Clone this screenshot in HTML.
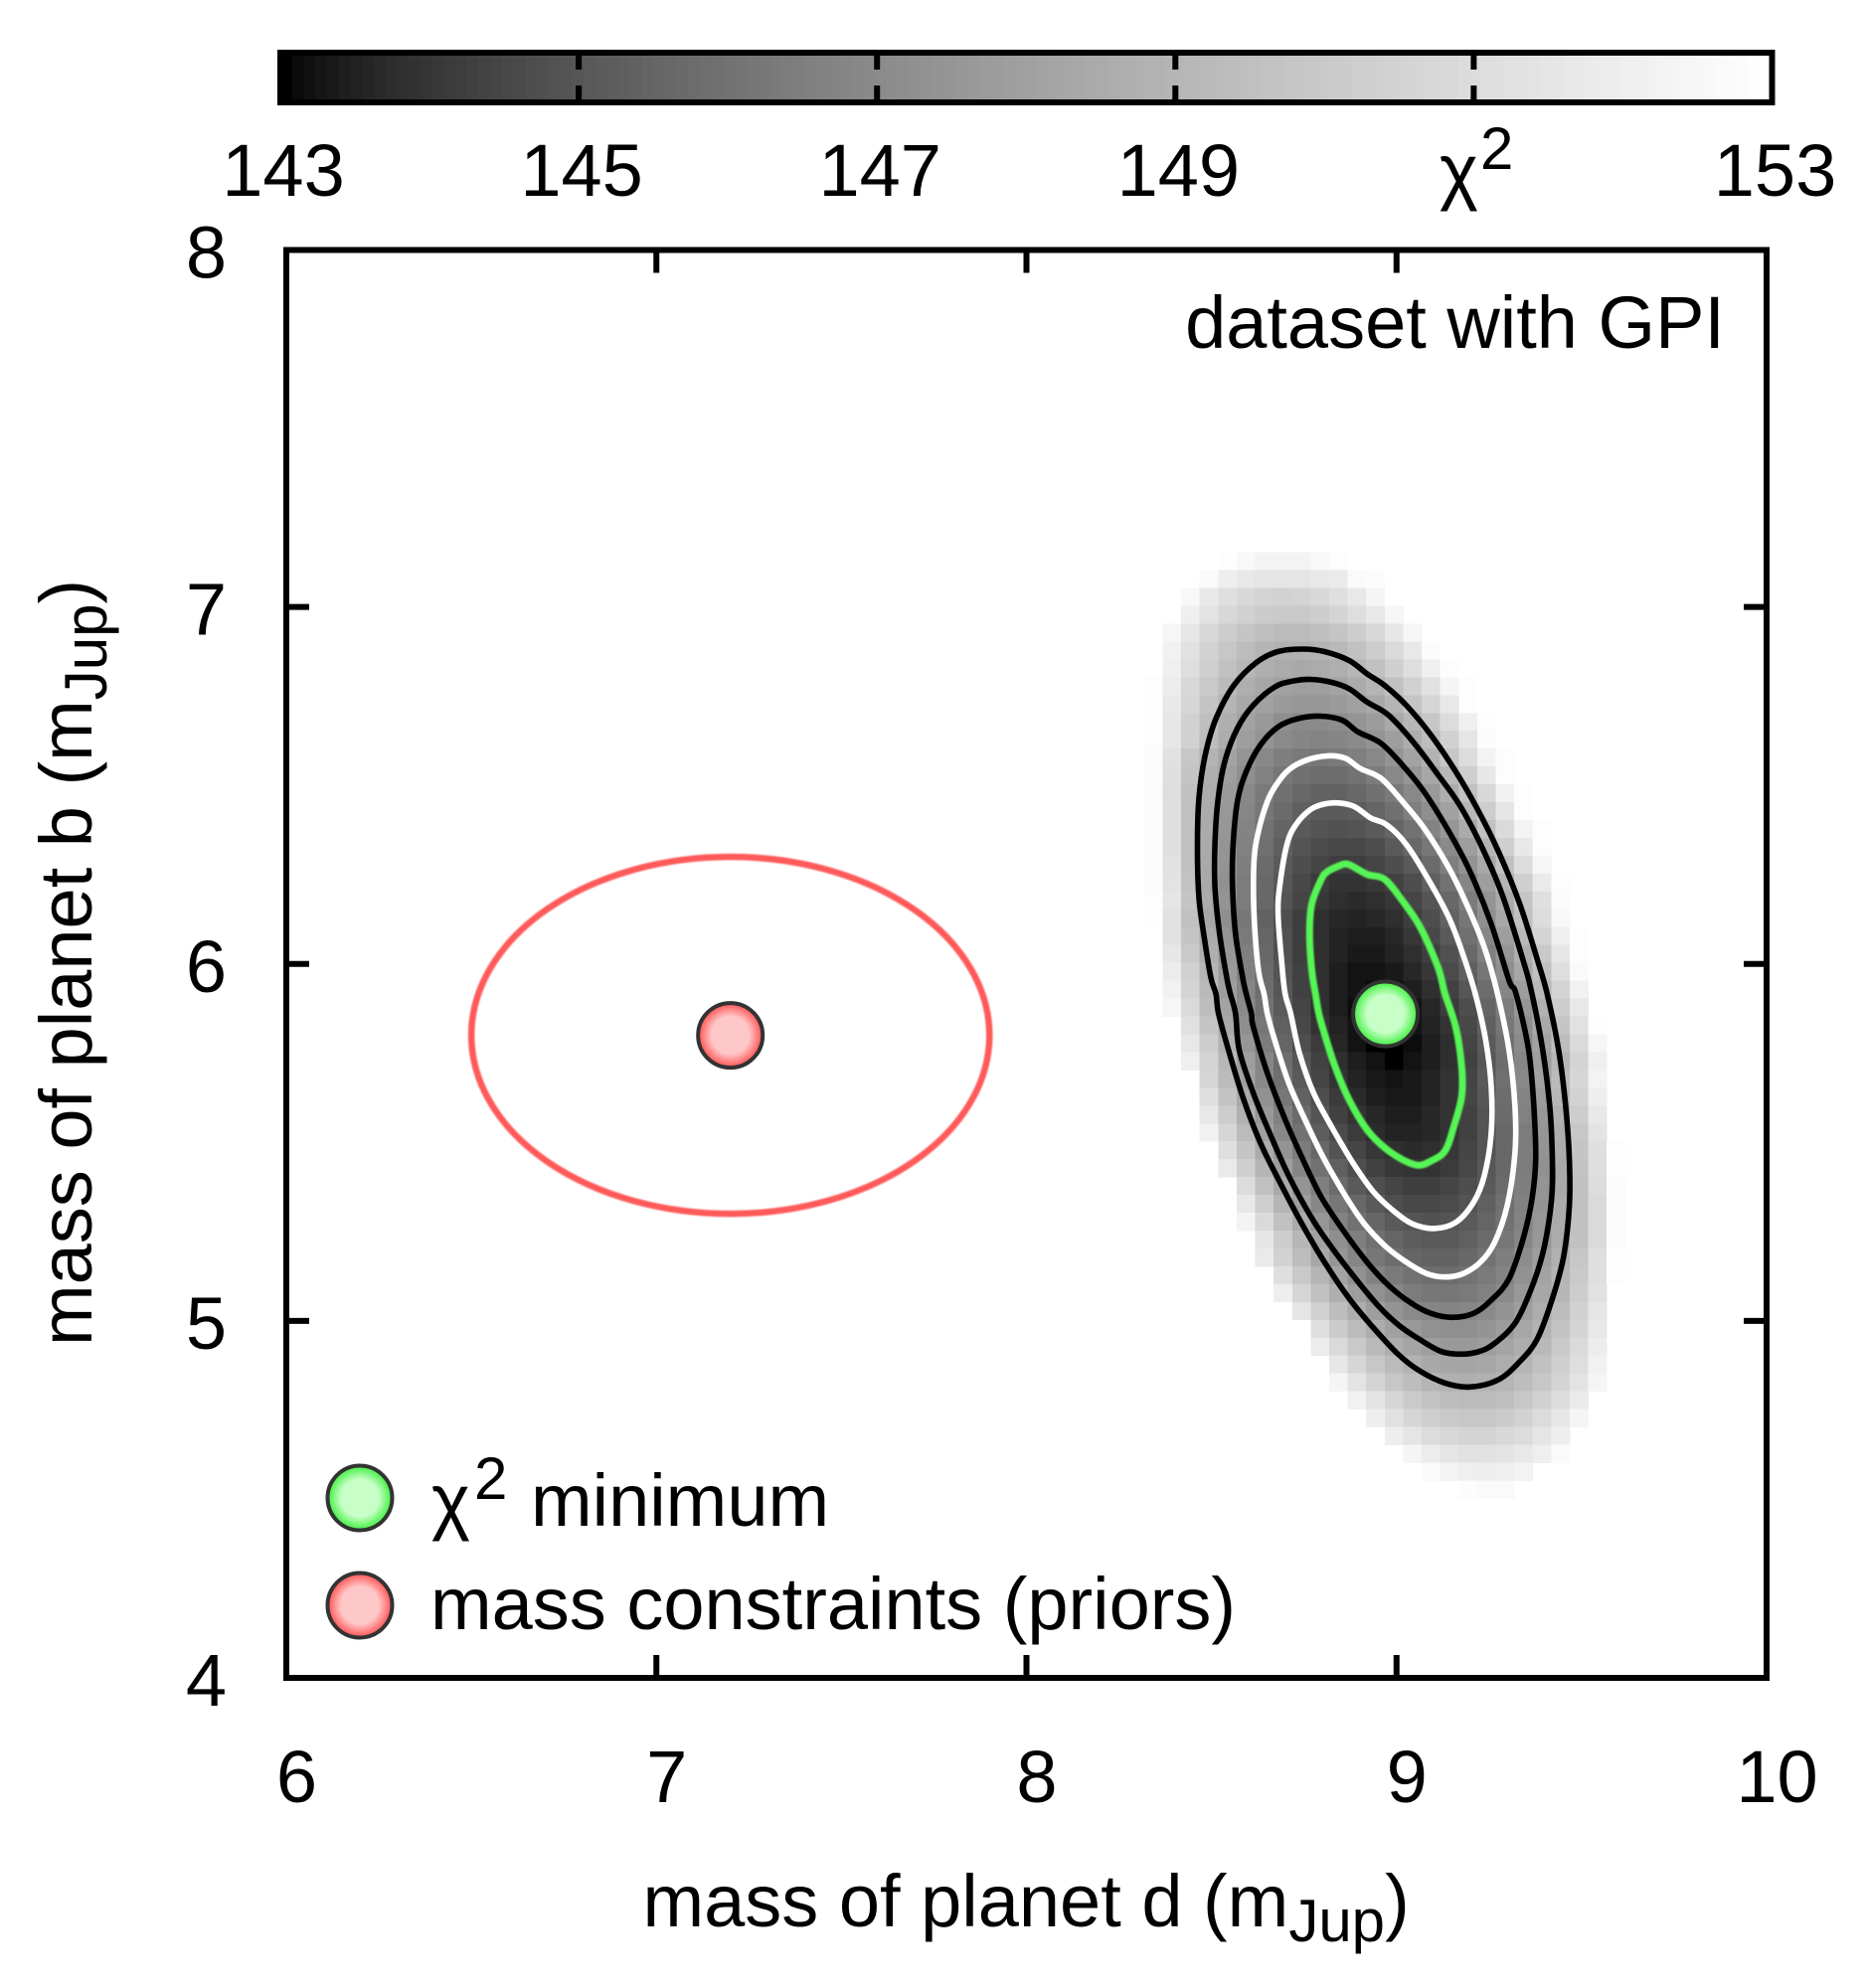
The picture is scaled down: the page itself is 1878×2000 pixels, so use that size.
<!DOCTYPE html>
<html lang="en">
<head>
<meta charset="utf-8">
<title>Chi-squared map of planet masses</title>
<style>
html,body{margin:0;padding:0;background:#fff}
svg{display:block}
text{font-family:"Liberation Sans",sans-serif;font-size:74px;fill:#000}
</style>
</head>
<body>
<svg id="chart" xmlns="http://www.w3.org/2000/svg" width="1878" height="2000" viewBox="0 0 1878 2000">
<defs>
<radialGradient id="greenFill" cx="50%" cy="50%" r="50%">
<stop offset="0" stop-color="#c8ffc8"/><stop offset="0.58" stop-color="#c8ffc8"/><stop offset="1" stop-color="#3cf03c"/>
</radialGradient>
<radialGradient id="redFill" cx="50%" cy="50%" r="50%">
<stop offset="0" stop-color="#ffc8c8"/><stop offset="0.58" stop-color="#ffc8c8"/><stop offset="1" stop-color="#ff5050"/>
</radialGradient>
<filter id="softLine" x="-5%" y="-5%" width="110%" height="110%"><feGaussianBlur stdDeviation="0.8"/></filter>
</defs>
<rect width="1878" height="2000" fill="#fff"/>
<g id="colorbar"></g>
<g id="heatmap" shape-rendering="crispEdges"></g>
<g id="contours"></g>
<g id="priors"></g>
<g id="axes"></g>

<text x="1735" y="350" text-anchor="end">dataset with GPI</text>

<text x="1448" y="197">χ<tspan x="1489" y="170" font-size="60">2</tspan></text>

<text x="646.5" y="1938">mass of planet d (m<tspan dy="15" font-size="60">Jup</tspan><tspan dy="-15">)</tspan></text>
<text transform="translate(92,1354) rotate(-90)">mass of planet b (m<tspan dy="15" font-size="60">Jup</tspan><tspan dy="-15">)</tspan></text>

<g>
<circle cx="362" cy="1507" r="32.5" fill="url(#greenFill)" stroke="#333" stroke-width="4"/>
<text x="434" y="1535">χ<tspan x="477" y="1508" font-size="60">2</tspan><tspan x="534" y="1535">minimum</tspan></text>
<circle cx="362" cy="1615" r="32.5" fill="url(#redFill)" stroke="#333" stroke-width="4"/>
<text x="433" y="1639">mass constraints (priors)</text>
</g>
</svg>

<script>
// ---- axis ticks ----
const xTicks = [6, 7, 8, 9, 10];
const yTicks = [4, 5, 6, 7, 8];
const colorbarTicks = [145, 147, 149, 151];
const colorbarLabels = [143, 145, 147, 149, 153];

// ---- heatmap grid: planet-d mass per column, planet-b mass per row ----
const massD = [8.343,8.393,8.443,8.493,8.543,8.593,8.643,8.693,8.743,8.793,8.843,8.893,8.943,8.993,9.043,9.093,9.143,9.193,9.243,9.293,9.343,9.393,9.443,9.493,9.543,9.593];
const massB = [7.128,7.078,7.028,6.978,6.928,6.878,6.828,6.778,6.728,6.678,6.628,6.578,6.528,6.478,6.428,6.378,6.328,6.278,6.228,6.178,6.128,6.078,6.028,5.978,5.928,5.878,5.828,5.778,5.728,5.678,5.628,5.578,5.528,5.478,5.428,5.378,5.328,5.278,5.228,5.178,5.128,5.078,5.028,4.978,4.928,4.878,4.828,4.778,4.728,4.678,4.628,4.578,4.528];
// index of the first filled column in each row
const rowFirstColumn = [4,3,2,2,1,1,1,0,0,0,0,0,0,0,0,0,0,0,0,0,0,1,1,1,1,1,2,2,2,3,3,3,3,4,4,5,5,5,6,6,7,7,8,9,9,10,10,11,12,13,14,15,17];
const chi2Rows = [
[152.9,152.6,152.3,152.3,152.3,152.6,152.9],
[152.7,152.0,151.7,151.5,151.5,151.5,151.7,151.8,152.7,152.8],
[152.6,151.7,151.2,150.8,150.6,150.5,150.6,150.8,151.2,151.7,152.4],
[152.1,151.4,150.8,150.4,150.1,150,150,150.2,150.6,151.1,151.7,152.5],
[152.5,151.6,150.8,150.2,149.8,149.5,149.3,149.3,149.5,149.8,150.2,150.8,151.6,152.5],
[152.2,151.3,150.5,149.9,149.4,149,148.8,148.8,148.9,149.2,149.6,150.2,150.9,151.7,152.8],
[152.1,151.1,150.3,149.6,149.1,148.7,148.5,148.4,148.5,148.7,149.1,149.6,150.3,151.1,152.1,152.9],
[152.9,151.9,150.8,150,149.3,148.7,148.3,148,147.9,147.9,148.1,148.5,149,149.6,150.4,151.3,152.4,152.9],
[152.9,151.7,150.7,149.8,149,148.4,148,147.7,147.5,147.5,147.7,148,148.4,149,149.8,150.7,151.7,152.9],
[152.9,151.6,150.4,149.5,148.7,148.1,147.6,147.2,147,147,147.1,147.4,147.8,148.4,149.1,149.9,151,152.1,152.9],
[152.9,151.6,150.4,149.4,148.6,147.9,147.4,147,146.8,146.7,146.8,147,147.4,147.9,148.6,149.4,150.4,151.5,152.8],
[152.8,151.3,149.9,148.9,148.1,147.4,146.9,146.5,146.3,146.2,146.3,146.5,146.9,147.4,148.1,148.9,149.9,151,152.3,152.9],
[152.8,151.2,149.8,148.7,147.9,147.2,146.6,146.2,145.9,145.8,145.8,146,146.4,146.9,147.5,148.3,149.2,150.3,151.6,152.9],
[152.8,151.1,149.6,148.6,147.7,146.9,146.3,145.9,145.6,145.4,145.4,145.6,145.9,146.3,146.9,147.7,148.6,149.6,150.8,152.2,152.9],
[152.8,151.2,149.6,148.5,147.6,146.8,146.2,145.7,145.3,145.1,145.1,145.2,145.5,145.9,146.5,147.2,148,149.1,150.2,151.5,152.9],
[152.8,151.2,149.6,148.5,147.5,146.7,146,145.5,145.1,144.9,144.8,144.9,145.1,145.5,146,146.7,147.5,148.5,149.6,150.9,152.3,152.9],
[152.8,151.2,149.6,148.5,147.4,146.6,145.9,145.3,144.9,144.6,144.5,144.5,144.7,145.1,145.6,146.2,147,147.9,149,150.3,151.7,152.9],
[152.8,151.3,149.6,148.4,147.4,146.5,145.7,145.1,144.7,144.4,144.2,144.2,144.4,144.7,145.1,145.7,146.5,147.4,148.4,149.6,151,152.5],
[152.8,151.4,149.7,148.4,147.3,146.4,145.6,145,144.5,144.1,143.9,143.9,144,144.3,144.7,145.3,146,146.8,147.9,149,150.3,151.8,152.9],
[152.9,151.5,149.8,148.5,147.4,146.4,145.6,144.9,144.4,144,143.8,143.7,143.8,144,144.4,144.9,145.6,146.4,147.4,148.5,149.8,151.2,152.8],
[152.9,151.3,149.6,148.3,147.2,146.2,145.4,144.7,144.2,143.8,143.6,143.5,143.6,143.8,144.2,144.7,145.4,146.2,147.2,148.3,149.6,151,152.6],
[151.3,149.8,148.5,147.4,146.3,145.5,144.8,144.2,143.8,143.5,143.4,143.4,143.6,144,144.5,145.1,145.9,146.8,147.9,149.2,150.6,152.1,152.9],
[151.6,150,148.7,147.5,146.5,145.6,144.8,144.2,143.8,143.5,143.3,143.3,143.5,143.8,144.2,144.8,145.6,146.5,147.5,148.7,150,151.6,152.9],
[151.9,150.4,149,147.7,146.6,145.7,144.9,144.3,143.8,143.4,143.2,143.2,143.3,143.6,144,144.6,145.3,146.1,147.2,148.3,149.6,151.1,152.7],
[152.2,150.6,149.2,147.9,146.8,145.8,145,144.3,143.8,143.4,143.2,143.1,143.2,143.4,143.8,144.3,145,145.8,146.8,147.9,149.2,150.6,152.2],
[152.5,150.9,149.4,148.1,147,146,145.1,144.4,143.8,143.4,143.1,143,143,143.2,143.6,144.1,144.7,145.5,146.4,147.5,148.8,150.2,151.7],
[151.3,149.8,148.4,147.2,146.2,145.3,144.5,143.9,143.5,143.2,143,143,143.2,143.5,143.9,144.5,145.3,146.2,147.2,148.4,149.8,151.3,152.9],
[151.7,150.2,148.8,147.5,146.4,145.5,144.7,144.1,143.6,143.2,143,143,143.1,143.4,143.8,144.4,145.1,145.9,147,148.1,149.4,150.9,152.5],
[152.1,150.6,149.1,147.9,146.8,145.8,145,144.3,143.8,143.4,143.2,143,143.2,143.4,143.8,144.3,145,145.8,146.8,147.9,149.1,150.6,152.1],
[150.7,149.3,148,146.9,145.9,145.1,144.4,143.9,143.5,143.3,143.2,143.3,143.5,143.9,144.4,145.1,145.9,146.9,148,149.3,150.7,152.3],
[151.2,149.7,148.4,147.3,146.2,145.4,144.7,144.1,143.7,143.4,143.3,143.3,143.5,143.9,144.4,145,145.8,146.7,147.8,149.1,150.5,152],
[151.7,150.2,148.8,147.6,146.6,145.7,144.9,144.3,143.9,143.6,143.4,143.4,143.6,143.9,144.3,144.9,145.7,146.6,147.6,148.8,150.2,151.7],
[152.2,150.7,149.3,148,146.9,146,145.2,144.6,144.1,143.7,143.5,143.5,143.6,143.9,144.3,144.9,145.6,146.4,147.5,148.6,149.9,151.4],
[151.2,149.8,148.5,147.4,146.4,145.6,144.9,144.4,144,143.8,143.7,143.8,144,144.4,144.9,145.6,146.4,147.4,148.5,149.8,151.2,152.9],
[151.8,150.3,149,147.9,146.8,146,145.3,144.7,144.3,144,143.9,143.9,144.1,144.5,145,145.6,146.4,147.3,148.4,149.7,151.1,152.9],
[151,149.6,148.4,147.4,146.5,145.7,145.1,144.7,144.4,144.2,144.2,144.4,144.7,145.1,145.7,146.5,147.4,148.4,149.6,151,152.8],
[151.7,150.3,149,147.9,146.9,146.2,145.6,145.1,144.7,144.5,144.5,144.6,144.9,145.3,145.9,146.6,147.4,148.5,149.6,150.9,152.8],
[152.3,150.9,149.6,148.5,147.5,146.7,146,145.5,145.1,144.9,144.8,144.9,145.1,145.5,146,146.7,147.5,148.5,149.6,150.9,152.8],
[151.5,150.2,149.1,148,147.2,146.5,145.9,145.5,145.2,145.1,145.1,145.3,145.7,146.2,146.8,147.6,148.5,149.6,150.9,152.8],
[151.8,150.5,149.4,148.3,147.5,146.8,146.2,145.8,145.5,145.4,145.4,145.6,146,146.5,147.1,147.9,148.8,149.9,151.2,152.9],
[151.2,150,149,148.1,147.3,146.7,146.3,146,145.8,145.8,146,146.3,146.7,147.3,148.1,149,150,151.2,152.9],
[152,150.7,149.6,148.7,147.9,147.3,146.8,146.4,146.2,146.2,146.3,146.6,147,147.6,148.3,149.1,150.2,151.3],
[151.5,150.4,149.4,148.6,147.9,147.4,147,146.8,146.7,146.8,147,147.4,147.9,148.6,149.4,150.4,151.5],
[151.2,150.1,149.3,148.6,148,147.6,147.3,147.2,147.2,147.4,147.8,148.3,148.9,149.7,150.6,151.7],
[151.9,150.9,150,149.2,148.6,148.2,147.9,147.7,147.7,147.9,148.2,148.6,149.2,150,150.9,151.9],
[151.6,150.7,149.9,149.3,148.8,148.4,148.2,148.2,148.3,148.6,149,149.6,150.3,151.1,152.2],
[152.4,151.4,150.6,149.9,149.4,149,148.8,148.7,148.8,149,149.4,149.9,150.6,151.4,152.4],
[152.2,151.4,150.7,150.1,149.7,149.4,149.3,149.3,149.5,149.9,150.4,151,151.8],
[152,151.3,150.7,150.3,150,149.9,149.9,150.1,150.5,151,151.6,152.4],
[152,151.5,151,150.8,150.6,150.6,150.8,151,151.5,152],
[152.4,151.9,151.5,151.3,151.3,151.4,151.7,152.1,152.7],
[152.7,152.3,152.1,152,152.1,152.3],
[152.8,152.7,152.7]
];

// ---- contours, each a closed list of [mass d, mass b] ----
const contourDelta1 = [[8.771,5.982],[8.765,6.084],[8.771,6.168],[8.795,6.233],[8.810,6.256],[8.843,6.274],[8.870,6.279],[8.920,6.251],[8.968,6.237],[9.016,6.177],[9.064,6.103],[9.112,5.991],[9.131,5.916],[9.160,5.823],[9.176,5.712],[9.176,5.629],[9.155,5.545],[9.131,5.476],[9.093,5.448],[9.059,5.436],[9.016,5.452],[8.968,5.485],[8.920,5.536],[8.872,5.619],[8.834,5.712],[8.805,5.805],[8.790,5.861],[8.781,5.916]];
const contourDelta2 = [[8.690,6.001],[8.680,6.140],[8.685,6.223],[8.704,6.335],[8.728,6.390],[8.767,6.432],[8.805,6.448],[8.843,6.451],[8.886,6.441],[8.930,6.409],[8.973,6.390],[9.026,6.335],[9.083,6.242],[9.141,6.131],[9.179,6.028],[9.213,5.916],[9.241,5.786],[9.256,5.657],[9.256,5.527],[9.237,5.406],[9.208,5.332],[9.160,5.276],[9.102,5.259],[9.045,5.271],[8.997,5.304],[8.939,5.360],[8.882,5.443],[8.824,5.545],[8.776,5.638],[8.738,5.749],[8.714,5.861],[8.699,5.916]];
const contourDelta3 = [[8.627,5.982],[8.615,6.140],[8.615,6.288],[8.627,6.372],[8.651,6.455],[8.675,6.502],[8.709,6.544],[8.757,6.571],[8.815,6.583],[8.862,6.576],[8.901,6.548],[8.958,6.520],[9.016,6.455],[9.074,6.381],[9.141,6.270],[9.189,6.168],[9.237,6.047],[9.273,5.916],[9.304,5.759],[9.320,5.601],[9.320,5.471],[9.299,5.323],[9.265,5.220],[9.227,5.165],[9.179,5.132],[9.131,5.123],[9.083,5.132],[9.026,5.165],[8.968,5.211],[8.910,5.276],[8.862,5.350],[8.805,5.452],[8.757,5.554],[8.709,5.666],[8.671,5.786],[8.651,5.861],[8.642,5.916]];
const contourDelta4 = [[8.584,5.963],[8.565,6.084],[8.557,6.214],[8.558,6.325],[8.570,6.455],[8.594,6.539],[8.632,6.613],[8.680,6.664],[8.733,6.687],[8.795,6.694],[8.853,6.683],[8.896,6.650],[8.958,6.618],[9.016,6.557],[9.074,6.483],[9.141,6.372],[9.198,6.260],[9.256,6.112],[9.304,5.954],[9.323,5.916],[9.357,5.759],[9.371,5.601],[9.376,5.452],[9.366,5.341],[9.342,5.230],[9.304,5.118],[9.256,5.058],[9.208,5.021],[9.150,5.010],[9.093,5.021],[9.035,5.053],[8.978,5.100],[8.920,5.165],[8.853,5.258],[8.795,5.350],[8.747,5.452],[8.699,5.564],[8.651,5.694],[8.613,5.824],[8.608,5.861],[8.594,5.916]];
const contourDelta5 = [[8.541,5.963],[8.522,6.084],[8.510,6.205],[8.509,6.325],[8.517,6.455],[8.536,6.567],[8.570,6.660],[8.613,6.725],[8.671,6.776],[8.718,6.792],[8.767,6.797],[8.824,6.789],[8.872,6.771],[8.920,6.734],[8.978,6.697],[9.045,6.622],[9.112,6.530],[9.170,6.446],[9.227,6.335],[9.285,6.196],[9.342,6.010],[9.366,5.916],[9.395,5.759],[9.414,5.601],[9.421,5.452],[9.419,5.341],[9.400,5.211],[9.371,5.109],[9.323,4.998],[9.265,4.937],[9.222,4.914],[9.174,4.907],[9.122,4.914],[9.064,4.947],[9.006,4.988],[8.949,5.044],[8.882,5.128],[8.815,5.220],[8.767,5.295],[8.709,5.406],[8.661,5.517],[8.613,5.638],[8.575,5.759],[8.565,5.861],[8.551,5.916]];
const contourDelta6 = [[8.498,5.963],[8.479,6.084],[8.466,6.186],[8.462,6.325],[8.466,6.465],[8.483,6.585],[8.512,6.687],[8.560,6.780],[8.622,6.845],[8.680,6.875],[8.747,6.882],[8.805,6.875],[8.872,6.850],[8.920,6.813],[8.968,6.780],[9.026,6.725],[9.093,6.641],[9.160,6.539],[9.217,6.437],[9.275,6.316],[9.333,6.168],[9.381,6.010],[9.407,5.916],[9.438,5.759],[9.457,5.601],[9.467,5.452],[9.467,5.323],[9.452,5.183],[9.424,5.072],[9.381,4.951],[9.333,4.886],[9.275,4.835],[9.198,4.815],[9.131,4.826],[9.064,4.859],[9.006,4.905],[8.939,4.979],[8.872,5.063],[8.805,5.165],[8.747,5.267],[8.690,5.378],[8.632,5.499],[8.584,5.629],[8.546,5.759],[8.519,5.861],[8.512,5.916]];

// ---- points ----
const chi2Minimum = [8.97, 5.86];
const priorMean = [7.2, 5.8];
const priorSigma = [0.7, 0.5];

// ---- axis functions ----
const xDomain = [6, 10];
const yDomain = [4, 8];
const colorDomain = [143, 153];
function xScale(v) { return 288 + (v - xDomain[0]) / (xDomain[1] - xDomain[0]) * 1489; }
function yScale(v) { return 1688 - (v - yDomain[0]) / (yDomain[1] - yDomain[0]) * 1436.5; }
function cbScale(v) { return 282 + (v - colorDomain[0]) / (colorDomain[1] - colorDomain[0]) * 1500.5; }
function grayFor(v) {
  const t = Math.min(1, Math.max(0, (v - colorDomain[0]) / (colorDomain[1] - colorDomain[0])));
  const g = Math.round(255 * Math.pow(t, 1 / 1.5));
  return 'rgb(' + g + ',' + g + ',' + g + ')';
}

const NS = 'http://www.w3.org/2000/svg';
function make(tag, attrs, parent) {
  const el = document.createElementNS(NS, tag);
  for (const k in attrs) el.setAttribute(k, attrs[k]);
  parent.appendChild(el);
  return el;
}
const cbGroup = document.getElementById('colorbar');
const heatGroup = document.getElementById('heatmap');
const contourGroup = document.getElementById('contours');
const priorGroup = document.getElementById('priors');
const axesGroup = document.getElementById('axes');

// ---- colorbar ----
const bandCount = 128;
for (let i = 0; i < bandCount; i++) {
  const v0 = colorDomain[0] + (colorDomain[1] - colorDomain[0]) * i / bandCount;
  const v1 = colorDomain[0] + (colorDomain[1] - colorDomain[0]) * (i + 1) / bandCount;
  const band = make('rect', { x: cbScale(v0), y: 53, width: cbScale(v1) - cbScale(v0) + 0.5, height: 50, fill: grayFor(colorDomain[0] + (colorDomain[1] - colorDomain[0]) * i / (bandCount - 1)) }, cbGroup);
  
  
}
const cbFrame = make('rect', { x: 282, y: 53, width: 1500.5, height: 50, fill: 'none', stroke: '#000', 'stroke-width': 6 }, cbGroup);


colorbarTicks.forEach(function (v) {
  const top = make('line', { x1: cbScale(v), x2: cbScale(v), y1: 53, y2: 70, stroke: '#000', 'stroke-width': 6 }, cbGroup);
  
  
  const bottom = make('line', { x1: cbScale(v), x2: cbScale(v), y1: 86, y2: 103, stroke: '#000', 'stroke-width': 6 }, cbGroup);
  
  
});
colorbarLabels.forEach(function (v) {
  const t = make('text', { x: cbScale(v) + 3, y: 197, 'text-anchor': 'middle' }, cbGroup);
  t.textContent = String(v);
  
  
});

// ---- heatmap ----
const halfD = 0.025;
const halfB = 0.025;
chi2Rows.forEach(function (row, r) {
  row.forEach(function (value, i) {
    const d = massD[rowFirstColumn[r] + i];
    const b = massB[r];
    const x0 = xScale(d - halfD);
    const x1 = xScale(d + halfD);
    const y0 = yScale(b + halfB);
    const y1 = yScale(b - halfB);
    const cell = make('rect', { x: x0, y: y0, width: x1 - x0 + 0.4, height: y1 - y0 + 0.4, fill: grayFor(value) }, heatGroup);
    
    
  });
});

// ---- contours: closed Catmull-Rom curve through the read points ----
function contourPath(points) {
  const px = points.map(function (p) { return [xScale(p[0]), yScale(p[1])]; });
  const n = px.length;
  let d = 'M' + px[0][0].toFixed(1) + ' ' + px[0][1].toFixed(1);
  for (let i = 0; i < n; i++) {
    const p0 = px[(i - 1 + n) % n];
    const p1 = px[i];
    const p2 = px[(i + 1) % n];
    const p3 = px[(i + 2) % n];
    const c1x = p1[0] + (p2[0] - p0[0]) / 6;
    const c1y = p1[1] + (p2[1] - p0[1]) / 6;
    const c2x = p2[0] - (p3[0] - p1[0]) / 6;
    const c2y = p2[1] - (p3[1] - p1[1]) / 6;
    d += ' C' + c1x.toFixed(1) + ' ' + c1y.toFixed(1) + ' ' + c2x.toFixed(1) + ' ' + c2y.toFixed(1) + ' ' + p2[0].toFixed(1) + ' ' + p2[1].toFixed(1);
  }
  return d + ' Z';
}
function drawContour(points, color, width, name, soft) {
  const c = make('path', { d: contourPath(points), fill: 'none', stroke: color, 'stroke-width': width, 'stroke-linejoin': 'round' }, contourGroup);
  if (soft) c.setAttribute('filter', 'url(#softLine)');
  
  
}
drawContour(contourDelta6, '#000', 5.6, 'contour-delta-6', false);
drawContour(contourDelta5, '#000', 5.6, 'contour-delta-5', false);
drawContour(contourDelta4, '#000', 5.6, 'contour-delta-4', false);
drawContour(contourDelta3, '#fff', 5.6, 'contour-delta-3', false);
drawContour(contourDelta2, '#fff', 5.6, 'contour-delta-2', false);
drawContour(contourDelta1, '#55f555', 7, 'contour-delta-1', true);

// ---- chi2 minimum marker ----
const minMarker = make('circle', { cx: xScale(chi2Minimum[0]), cy: yScale(chi2Minimum[1]), r: 32.5, fill: 'url(#greenFill)', stroke: '#333', 'stroke-width': 4 }, contourGroup);



// ---- mass prior ----
const priorEllipse = make('ellipse', {
  cx: xScale(priorMean[0]),
  cy: yScale(priorMean[1]),
  rx: xScale(priorMean[0] + priorSigma[0]) - xScale(priorMean[0]),
  ry: yScale(priorMean[1]) - yScale(priorMean[1] + priorSigma[1]),
  fill: 'none', stroke: '#ff5a5a', 'stroke-width': 6.5, filter: 'url(#softLine)'
}, priorGroup);


const priorMarker = make('circle', { cx: xScale(priorMean[0]), cy: yScale(priorMean[1]), r: 32.5, fill: 'url(#redFill)', stroke: '#333', 'stroke-width': 4 }, priorGroup);



// ---- axes ----
const tickLen = 20;
xTicks.forEach(function (v) {
  const px = xScale(v);
  const tb = make('line', { x1: px, x2: px, y1: yScale(4), y2: yScale(4) - tickLen - 3, stroke: '#000', 'stroke-width': 6 }, axesGroup);
  
  
  const tt = make('line', { x1: px, x2: px, y1: yScale(8), y2: yScale(8) + tickLen + 3, stroke: '#000', 'stroke-width': 6 }, axesGroup);
  
  
  const label = make('text', { x: px + 10.5, y: 1813, 'text-anchor': 'middle' }, axesGroup);
  label.textContent = String(v);
  
  
});
yTicks.forEach(function (v) {
  const py = yScale(v);
  const tl = make('line', { x1: xScale(6), x2: xScale(6) + tickLen + 3, y1: py, y2: py, stroke: '#000', 'stroke-width': 6 }, axesGroup);
  
  
  const tr = make('line', { x1: xScale(10), x2: xScale(10) - tickLen - 3, y1: py, y2: py, stroke: '#000', 'stroke-width': 6 }, axesGroup);
  
  
  const label = make('text', { x: 228, y: py + 28, 'text-anchor': 'end' }, axesGroup);
  label.textContent = String(v);
  
  
});
const plotFrame = make('rect', { x: xScale(6), y: yScale(8), width: xScale(10) - xScale(6), height: yScale(4) - yScale(8), fill: 'none', stroke: '#000', 'stroke-width': 6 }, axesGroup);


</script>
</body>
</html>
